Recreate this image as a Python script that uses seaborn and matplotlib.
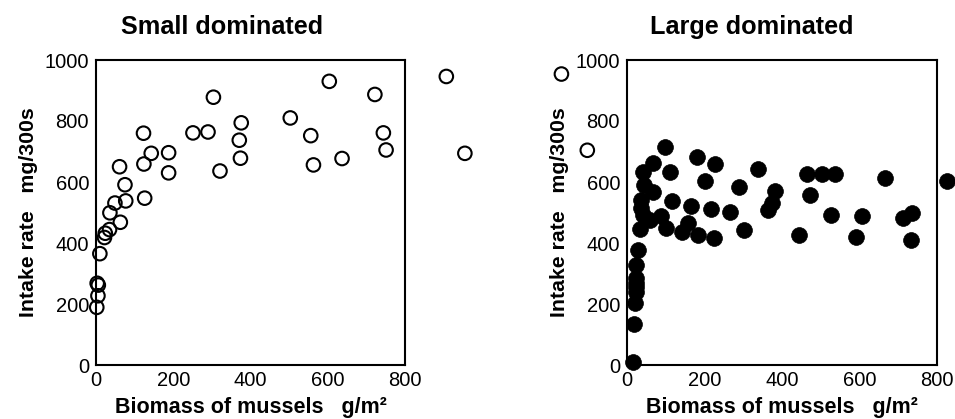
import matplotlib
matplotlib.use("Agg")
import matplotlib.pyplot as plt
import seaborn as sns
import pandas as pd

# Small dominated (open circles)
small_x = [907, 955, 604, 722, 744, 751, 637, 556, 563, 503, 376, 371, 374, 304, 321,
           290, 251, 188, 188, 143, 123, 124, 126, 75, 77, 61, 63, 49, 36, 35, 24, 22,
           10, 3, 6, 5, 2, 1205, 1272]
small_y = [946, 694, 930, 887, 761, 705, 677, 752, 656, 810, 794, 737, 678, 878, 636,
           764, 761, 696, 630, 694, 760, 659, 547, 591, 538, 650, 468, 531, 499, 444, 432, 418,
           365, 268, 262, 227, 189, 954, 704]

# Large dominated (filled circles)
large_x = [826, 665, 735, 713, 734, 607, 590, 527, 537, 502, 464, 473, 445, 381, 375,
           363, 338, 290, 301, 266, 227, 225, 216, 202, 180, 184, 165, 158, 141, 111,
           117, 98, 100, 87, 66, 67, 59, 41, 43, 37, 37, 40, 33, 29, 24, 24, 22, 20, 18, 16, 24, 22]
large_y = [602, 613, 498, 481, 410, 490, 419, 492, 626, 626, 626, 558, 426, 569, 531,
           509, 643, 582, 443, 503, 660, 418, 511, 602, 682, 426, 522, 467, 435, 633,
           539, 715, 448, 489, 663, 567, 476, 632, 591, 542, 514, 492, 445, 377, 327, 284, 256, 203, 133, 9, 270, 240]

titles = ["Small dominated", "Large dominated"]
xlabel = "Biomass of mussels   g/m²"
ylabel = "Intake rate   mg/300s"
xticks = [0, 200, 400, 600, 800]
yticks = [0, 200, 400, 600, 800, 1000]

sns.set_style("white")
plt.rcParams['font.family'] = ['Liberation Sans', 'DejaVu Sans']
plt.rcParams['text.color'] = 'black'
plt.rcParams['axes.labelcolor'] = 'black'
plt.rcParams['xtick.color'] = 'black'
plt.rcParams['ytick.color'] = 'black'

fig = plt.figure(figsize=(9.55, 4.19), dpi=100)
ax1 = fig.add_axes([96/955, 54/419, 309/955, 305/419])
ax2 = fig.add_axes([627/955, 54/419, 310/955, 305/419])

df_s = pd.DataFrame({"x": small_x, "y": small_y})
df_l = pd.DataFrame({"x": large_x, "y": large_y})

sns.scatterplot(data=df_s, x="x", y="y", ax=ax1, marker="o", s=95,
                facecolor="none", edgecolor="black", linewidth=1.5, clip_on=False, zorder=5)
sns.scatterplot(data=df_l, x="x", y="y", ax=ax2, marker="o", s=130,
                color="black", edgecolor="black", linewidth=0.5, clip_on=False, zorder=5)

for ax, t, cx in [(ax1, titles[0], 222), (ax2, titles[1], 752)]:
    ax.set_xlim(0, 800)
    ax.set_ylim(0, 1000)
    ax.set_xticks(xticks)
    ax.set_yticks(yticks)
    ax.tick_params(axis="both", direction="in", length=5, width=1.2, labelsize=14.5,
                   colors="black", labelcolor="black")
    ax.tick_params(axis="x", pad=4.5)
    ax.tick_params(axis="y", pad=5)
    for sp in ax.spines.values():
        sp.set_visible(True)
        sp.set_linewidth(1.5)
        sp.set_color("black")
    ax.set_xlabel(xlabel, fontsize=15.5, fontweight="bold", labelpad=5, color="black")
    ax.set_ylabel(ylabel, fontsize=15.3, fontweight="bold", labelpad=5, color="black")
    fig.text(cx/955, 1 - 27/419, t, fontsize=18.2, fontweight="bold",
             ha="center", va="center", color="black")

fig.savefig("out.png", dpi=100)
